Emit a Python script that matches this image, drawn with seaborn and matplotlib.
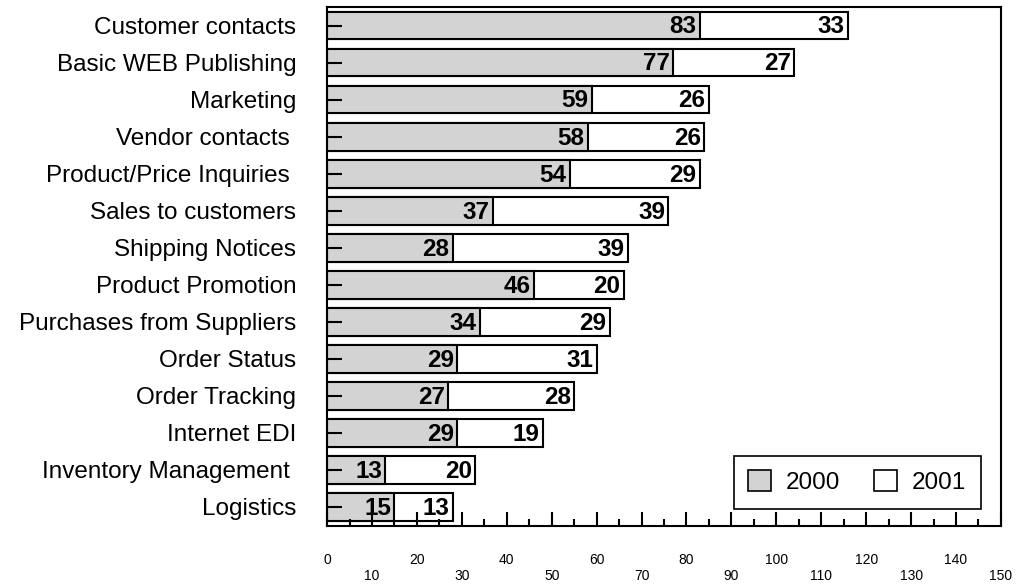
import matplotlib
matplotlib.use("Agg")
import matplotlib.pyplot as plt
from matplotlib.patches import Patch
from matplotlib.ticker import MultipleLocator
import seaborn as sns

# Survey: business uses of the internet, 2000 vs. additional in 2001
categories = ["Customer contacts", "Basic WEB Publishing", "Marketing",
              "Vendor contacts ", "Product/Price Inquiries ", "Sales to customers",
              "Shipping Notices", "Product Promotion", "Purchases from Suppliers",
              "Order Status", "Order Tracking", "Internet EDI",
              "Inventory Management ", "Logistics"]
values_2000 = [83, 77, 59, 58, 54, 37, 28, 46, 34, 29, 27, 29, 13, 15]
values_2001 = [33, 27, 26, 26, 29, 39, 39, 20, 29, 31, 28, 19, 20, 13]
series_names = ["2000", "2001"]
x_ticks = list(range(0, 151, 10))

totals = [a + b for a, b in zip(values_2000, values_2001)]

sns.set_style("white")
plt.rcParams["font.family"] = ["Liberation Sans", "DejaVu Sans"]
plt.rcParams["text.color"] = "black"
plt.rcParams["axes.labelcolor"] = "black"
plt.rcParams["xtick.color"] = "black"
plt.rcParams["ytick.color"] = "black"
plt.rcParams["xtick.labelcolor"] = "black"
plt.rcParams["ytick.labelcolor"] = "black"

GRAY = "#d3d3d3"
LW = 1.5

fig = plt.figure(figsize=(10.16, 5.85), dpi=100)
ax = fig.add_axes([0.3219, 0.1017, 0.9852 - 0.3219, 0.988 - 0.1017])

# stacked bars: full total in white, 2000 share in gray on top
sns.barplot(x=totals, y=categories, orient="h", color="white", saturation=1,
            edgecolor="black", linewidth=LW, width=0.75, ax=ax)
sns.barplot(x=values_2000, y=categories, orient="h", color=GRAY, saturation=1,
            edgecolor="black", linewidth=LW, width=0.75, ax=ax)
ax.set_axisbelow(False)

for i, (a, t, b) in enumerate(zip(values_2000, totals, values_2001)):
    ax.annotate(str(a), xy=(a, i), xytext=(-2.5, -1), textcoords="offset points",
                ha="right", va="center", fontsize=17.5, fontweight="bold",
                color="black")
    ax.annotate(str(b), xy=(t, i), xytext=(-2.5, -1), textcoords="offset points",
                ha="right", va="center", fontsize=17.5, fontweight="bold",
                color="black")

ax.set_xlim(0, 150)
ax.set_xlabel("")
ax.set_ylabel("")

# staggered x labels: tens on a second line
ax.set_xticks(x_ticks)
ax.set_xticklabels([str(v) if (v // 10) % 2 == 0 else "\n" + str(v) for v in x_ticks])
ax.xaxis.set_minor_locator(MultipleLocator(5))
for lbl in ax.get_xticklabels():
    lbl.set_linespacing(1.2)
ax.tick_params(axis="x", which="major", direction="in", length=10, width=LW,
               pad=20, labelsize=10, color="black", bottom=True)
ax.tick_params(axis="x", which="minor", direction="in", length=5, width=LW,
               color="black", bottom=True)
ax.tick_params(axis="y", direction="in", length=11, width=LW, pad=22,
               labelsize=17.5, color="black", left=True)

for side in ["left", "right", "top", "bottom"]:
    ax.spines[side].set_visible(True)
    ax.spines[side].set_color("black")
    ax.spines[side].set_linewidth(LW)
    ax.spines[side].set_zorder(5)

handles = [Patch(facecolor=GRAY, edgecolor="black", linewidth=1.2),
           Patch(facecolor="white", edgecolor="black", linewidth=1.2)]
leg = ax.legend(handles, series_names, ncol=2, loc="lower right",
                bbox_to_anchor=(0.970, 0.032), borderaxespad=0, fontsize=17.5,
                frameon=True, fancybox=False, edgecolor="black",
                handlelength=0.95, handleheight=0.95, handletextpad=0.6,
                columnspacing=1.4, borderpad=0.6)
leg.get_frame().set_linewidth(1.2)
leg.get_frame().set_alpha(1)
leg.set_zorder(6)

fig.savefig("out.png", dpi=100)
